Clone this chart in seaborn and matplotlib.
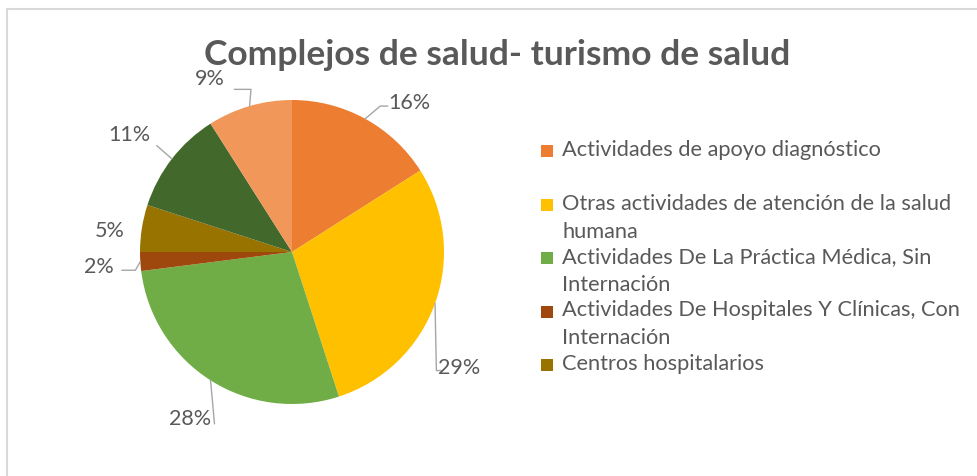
import numpy as np
import seaborn as sns
import matplotlib.pyplot as plt

# data (clockwise from 12 o'clock)
shares = [16, 29, 28, 2, 5, 11, 9]
pct_labels = ["16%", "29%", "28%", "2%", "5%", "11%", "9%"]
legend_labels = [
    "Actividades de apoyo diagnóstico",
    "Otras actividades de atención de la salud\nhumana",
    "Actividades De La Práctica Médica, Sin\nInternación",
    "Actividades De Hospitales Y Clínicas, Con\nInternación",
    "Centros hospitalarios",
]
slice_colors = ["#ED7D31", "#FFC000", "#70AD47", "#9E480E", "#997300", "#43682B", "#F1975A"]
title = "Complejos de salud- turismo de salud"

sns.set_theme(style="white")
plt.rcParams['font.family'] = ['Lato', 'DejaVu Sans']
txt = "#595959"

W, H = 978, 476
fig = plt.figure(figsize=(W / 100, H / 100), dpi=100)
ax = fig.add_axes([0, 0, 1, 1])

cx, cy, R = 292, H - 252, 152
wedges, _ = ax.pie(shares, colors=sns.color_palette(slice_colors), startangle=90,
                   counterclock=False, center=(cx, cy), radius=R,
                   wedgeprops=dict(linewidth=0))

# label placement (in units of radius, relative to centre) and leader bends
lab_pos = [(0.77, 0.98), (1.10, -0.76), (-0.67, -1.10), (-1.27, -0.10),
           (-1.20, 0.14), (-1.07, 0.77), (-0.54, 1.14)]
leaders = [
    [(1.0, None), (0.58, 0.96), (0.63, 0.96)],
    [(1.0, None), (0.95, -0.78), (0.98, -0.78)],
    [(1.0, None), (-0.51, -1.13)],
    [(1.0, None), (-1.03, -0.12), (-1.12, -0.12)],
    None,
    [(1.0, None), (-0.89, 0.70)],
    [(1.0, None), (-0.27, 1.07), (-0.38, 1.07)],
]
for w, lab, (lx, ly), ld in zip(wedges, pct_labels, lab_pos, leaders):
    mid = np.deg2rad((w.theta1 + w.theta2) / 2)
    ax.text(cx + lx * R, cy + ly * R, lab, ha="center", va="center",
            fontsize=15.5, color=txt)
    if ld is not None:
        pts = [(cx + R * np.cos(mid), cy + R * np.sin(mid))]
        pts += [(cx + px * R, cy + py * R) for px, py in ld[1:]]
        xs, ys = zip(*pts)
        ax.plot(xs, ys, color="#a6a6a6", lw=1)

# legend drawn by hand to keep Excel's two-line slots
lx0, ly0, step = 541, H - 151, 53.5
for i, lab in enumerate(legend_labels):
    y = ly0 - i * step
    ax.add_patch(plt.Rectangle((lx0, y - 6), 12, 12, color=slice_colors[i], lw=0))
    ax.text(lx0 + 21, y + 11, lab, ha="left", va="top", fontsize=15.7,
            color=txt, linespacing=1.5)

ax.text(497, H - 55, title, ha="center", va="center", fontsize=25.5,
        fontweight="bold", color=txt)

# chart border (only top and left visible)
ax.plot([7, 7, W], [0, H - 9, H - 9], color="#d9d9d9", lw=1.5)

ax.set_xlim(0, W)
ax.set_ylim(0, H)
ax.axis("off")
fig.savefig("out.png", dpi=100)
